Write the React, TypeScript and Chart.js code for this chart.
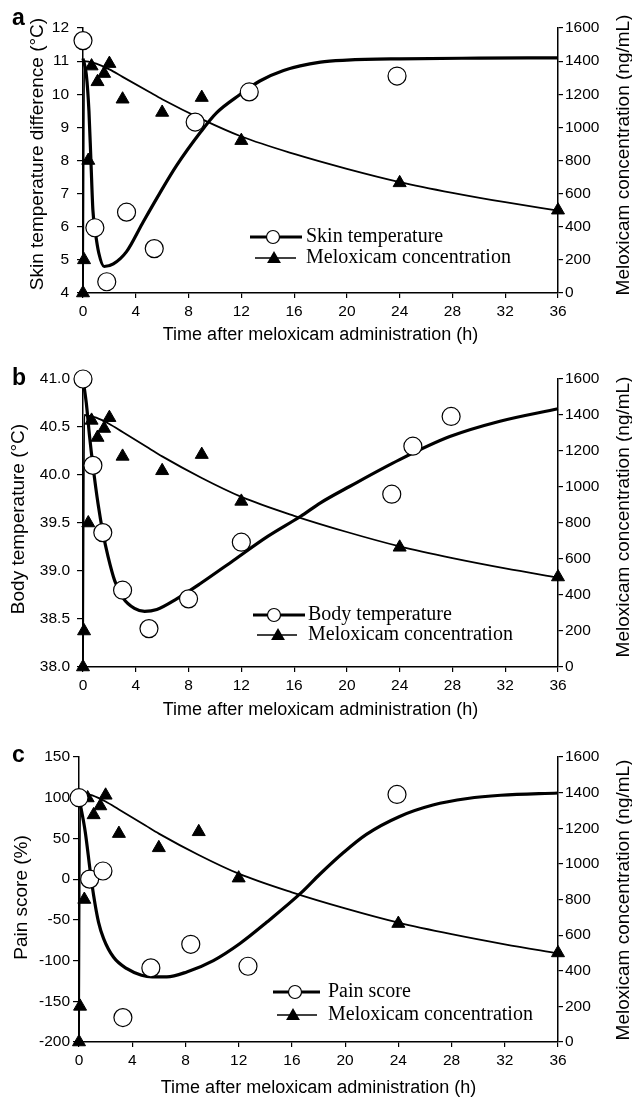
import React, { useEffect, useRef } from "react";
import { Chart, registerables } from "chart.js";

Chart.register(...registerables);

// ---------- Shared axis / tick data ----------
const timeMin = 0;
const timeMax = 36;
const timeStep = 4;
const concMin = 0;
const concMax = 1600;
const concStep = 200;

// ---------- Meloxicam concentration (same in all panels) ----------
const meloxTimes = [0, 0.08, 0.4, 0.65, 1.1, 1.6, 2, 3, 6, 9, 12, 24, 36];
const meloxConc = [0, 200, 800, 1370, 1275, 1325, 1385, 1170, 1090, 1180, 920, 665, 500];
const meloxFitTimes = [0, 0.1, 0.5, 1, 2, 3, 5, 6, 9, 12, 16, 20, 24, 28, 32, 36];
const meloxFitConc = [0, 1400, 1395, 1385, 1350, 1305, 1215, 1170, 1050, 945, 840, 750, 670, 605, 548, 497];

// ---------- Panel a: skin temperature difference ----------
const skinTimes = [0, 0.9, 1.8, 3.3, 5.4, 8.5, 12.6, 23.8];
const skinDiff = [11.62, 5.97, 4.34, 6.44, 5.34, 9.16, 10.07, 10.55];
const skinFitTimes = [0, 0.25, 0.45, 0.6, 0.75, 0.95, 1.2, 1.6, 2.3, 3.3, 4.5, 5.8, 7.1, 8.9, 10.1, 11.9, 13.4, 15.2, 18, 20, 24, 30, 36];
const skinFitDiff = [11.08, 10.6, 9.5, 8.0, 6.5, 5.8, 5.2, 4.8, 4.88, 5.25, 6.1, 7.0, 7.85, 8.85, 9.43, 9.99, 10.4, 10.72, 10.97, 11.03, 11.07, 11.09, 11.1];

// ---------- Panel b: body temperature ----------
const bodyTimes = [0, 0.75, 1.5, 3, 5, 8, 12, 23.4, 25, 27.9];
const bodyTemp = [41.0, 40.1, 39.4, 38.8, 38.4, 38.71, 39.3, 39.8, 40.3, 40.61];
const bodyFitTimes = [0, 0.25, 0.5, 0.76, 1.14, 1.52, 1.9, 2.4, 3.03, 3.9, 4.67, 5.6, 7.1, 8.9, 11.4, 14, 16.5, 18, 20.2, 24, 27.8, 31.6, 36];
const bodyFitTemp = [41.0, 40.75, 40.4, 40.09, 39.7, 39.39, 39.15, 38.9, 38.72, 38.61, 38.58, 38.6, 38.71, 38.87, 39.11, 39.36, 39.57, 39.71, 39.88, 40.16, 40.4, 40.56, 40.69];

// ---------- Panel c: pain score ----------
const painTimes = [0, 0.8, 1.8, 3.3, 5.4, 8.4, 12.7, 23.9];
const painScore = [100, 0, 10, -170, -109, -80, -107, 104];
const painFitTimes = [0, 0.47, 0.85, 1.1, 1.47, 1.85, 2.6, 3.6, 4.7, 5.5, 6.6, 8.1, 10.1, 12.1, 14.1, 16.75, 18.1, 19.9, 21.6, 24.1, 26.6, 29.2, 31.7, 36];
const painFit = [100, 58, 9, -20, -53, -73, -96, -110, -118, -120, -120, -114, -100, -79, -53, -16, 6, 33, 55, 77, 91, 99, 103, 105.8];

// ---------- Texts ----------
const xTitle = "Time after meloxicam administration (h)";
const rightTitle = "Meloxicam concentration (ng/mL)";
const meloxLabel = "Meloxicam concentration";

const SANS = '"Liberation Sans", Arial, Helvetica, sans-serif';
const SERIF = '"Liberation Serif", "Times New Roman", Times, serif';

type PanelDef = {
  letter: string;
  top: number;
  height: number;
  padTop: number;
  padBottom: number;
  leftW: number;
  leftPad: number;
  yMin: number;
  yMax: number;
  yStep: number;
  yFmt: (v: number) => string;
  obsX: number[];
  obsY: number[];
  fitX: number[];
  fitY: number[];
  obsLabel: string;
  leftTitle: string;
  letterY: number;
  leftTitleX: number;
  leftTitleY: number;
  rightTitleY: number;
  xTitleY: number;
  legend: {
    row1Y: number;
    row2Y: number;
    l1: [number, number];
    l2: [number, number];
    sym1X: number;
    sym2X: number;
    textX: number;
  };
};

const panels: PanelDef[] = [
  {
    letter: "a",
    top: 0,
    height: 345,
    padTop: 28,
    padBottom: 22,
    leftW: 83,
    leftPad: 8,
    yMin: 4,
    yMax: 12,
    yStep: 1,
    yFmt: (v) => String(v),
    obsX: skinTimes,
    obsY: skinDiff,
    fitX: skinFitTimes,
    fitY: skinFitDiff,
    obsLabel: "Skin temperature",
    leftTitle: "Skin temperature difference (°C)",
    letterY: 25,
    leftTitleX: 37.5,
    leftTitleY: 154,
    rightTitleY: 155,
    xTitleY: 335,
    legend: { row1Y: 237, row2Y: 258, l1: [250, 302], l2: [255, 296], sym1X: 273, sym2X: 274, textX: 306 },
  },
  {
    letter: "b",
    top: 345,
    height: 375,
    padTop: 34,
    padBottom: 23,
    leftW: 83,
    leftPad: 7,
    yMin: 38,
    yMax: 41,
    yStep: 0.5,
    yFmt: (v) => v.toFixed(1),
    obsX: bodyTimes,
    obsY: bodyTemp,
    fitX: bodyFitTimes,
    fitY: bodyFitTemp,
    obsLabel: "Body temperature",
    leftTitle: "Body temperature (°C)",
    letterY: 40,
    leftTitleX: 19,
    leftTitleY: 174,
    rightTitleY: 172,
    xTitleY: 365,
    legend: { row1Y: 270, row2Y: 290, l1: [253, 305], l2: [257, 297], sym1X: 274, sym2X: 278, textX: 308 },
  },
  {
    letter: "c",
    top: 720,
    height: 380,
    padTop: 37,
    padBottom: 28,
    leftW: 79,
    leftPad: 3,
    yMin: -200,
    yMax: 150,
    yStep: 50,
    yFmt: (v) => String(v),
    obsX: painTimes,
    obsY: painScore,
    fitX: painFitTimes,
    fitY: painFit,
    obsLabel: "Pain score",
    leftTitle: "Pain score (%)",
    letterY: 42,
    leftTitleX: 21.7,
    leftTitleY: 177.5,
    rightTitleY: 180,
    xTitleY: 368,
    legend: { row1Y: 272, row2Y: 295, l1: [273, 320], l2: [277, 317], sym1X: 295, sym2X: 293, textX: 328 },
  },
];

function pts(xs: number[], ys: number[]) {
  return xs.map((x, i) => ({ x, y: ys[i] }));
}

function drawTriangle(ctx: CanvasRenderingContext2D, x: number, y: number, r: number) {
  ctx.beginPath();
  ctx.moveTo(x, y - r);
  ctx.lineTo(x + r * 0.866, y + r * 0.5);
  ctx.lineTo(x - r * 0.866, y + r * 0.5);
  ctx.closePath();
  ctx.fillStyle = "#000";
  ctx.fill();
}

function makeDecor(def: PanelDef) {
  return {
    id: "decor",
    afterDraw(chart: any) {
      const ctx: CanvasRenderingContext2D = chart.ctx;
      const ca = chart.chartArea;
      ctx.save();
      ctx.fillStyle = "#000";
      // panel letter
      ctx.font = `bold 23px ${SANS}`;
      ctx.textAlign = "left";
      ctx.textBaseline = "alphabetic";
      ctx.fillText(def.letter, 12, def.letterY);
      // left axis title
      ctx.font = `19px ${SANS}`;
      ctx.textAlign = "center";
      ctx.textBaseline = "middle";
      ctx.save();
      ctx.translate(def.leftTitleX, def.leftTitleY);
      ctx.rotate(-Math.PI / 2);
      ctx.fillText(def.leftTitle, 0, 0);
      ctx.restore();
      // right axis title
      ctx.save();
      ctx.translate(624, def.rightTitleY);
      ctx.rotate(-Math.PI / 2);
      ctx.fillText(rightTitle, 0, 0);
      ctx.restore();
      // x title
      ctx.font = `18px ${SANS}`;
      ctx.fillText(xTitle, (ca.left + ca.right) / 2, def.xTitleY);
      // legend
      const lg = def.legend;
      ctx.strokeStyle = "#000";
      ctx.lineWidth = 3;
      ctx.beginPath();
      ctx.moveTo(lg.l1[0], lg.row1Y);
      ctx.lineTo(lg.l1[1], lg.row1Y);
      ctx.stroke();
      ctx.beginPath();
      ctx.arc(lg.sym1X, lg.row1Y, 6.5, 0, Math.PI * 2);
      ctx.fillStyle = "#fff";
      ctx.fill();
      ctx.lineWidth = 1.2;
      ctx.stroke();
      ctx.lineWidth = 1.5;
      ctx.beginPath();
      ctx.moveTo(lg.l2[0], lg.row2Y);
      ctx.lineTo(lg.l2[1], lg.row2Y);
      ctx.stroke();
      drawTriangle(ctx, lg.sym2X, lg.row2Y + 1, 8);
      ctx.fillStyle = "#000";
      ctx.font = `20px ${SERIF}`;
      ctx.textAlign = "left";
      ctx.textBaseline = "middle";
      ctx.fillText(def.obsLabel, lg.textX, lg.row1Y);
      ctx.fillText(meloxLabel, lg.textX, lg.row2Y);
      ctx.restore();
    },
  };
}

function Panel({ def }: { def: PanelDef }) {
  const ref = useRef<HTMLCanvasElement>(null);
  useEffect(() => {
    const tickFont = { family: SANS, size: 15.5 };
    const gridBase = { drawOnChartArea: false, drawTicks: true, color: "#000", lineWidth: 1.2 };
    const border = { display: true, color: "#000", width: 1.5 };
    const chart = new Chart(ref.current as HTMLCanvasElement, {
      type: "scatter",
      data: {
        datasets: [
          {
            label: def.obsLabel,
            data: pts(def.obsX, def.obsY),
            yAxisID: "y",
            showLine: false,
            pointStyle: "circle",
            pointRadius: 9,
            pointBackgroundColor: "#fff",
            pointBorderColor: "#000",
            pointBorderWidth: 1.2,
            clip: false,
            order: 0,
          },
          {
            label: meloxLabel,
            data: pts(meloxTimes, meloxConc),
            yAxisID: "y2",
            showLine: false,
            pointStyle: "triangle",
            pointRadius: 7.5,
            pointBackgroundColor: "#000",
            pointBorderColor: "#000",
            pointBorderWidth: 1,
            clip: false,
            order: 0,
          },
          {
            label: def.obsLabel + " fit",
            data: pts(def.fitX, def.fitY),
            yAxisID: "y",
            showLine: true,
            pointRadius: 0,
            borderColor: "#000",
            borderWidth: 3.2,
            cubicInterpolationMode: "monotone",
            fill: false,
            clip: false,
            order: 1,
          },
          {
            label: meloxLabel + " fit",
            data: pts(meloxFitTimes, meloxFitConc),
            yAxisID: "y2",
            showLine: true,
            pointRadius: 0,
            borderColor: "#000",
            borderWidth: 1.8,
            cubicInterpolationMode: "monotone",
            fill: false,
            clip: false,
            order: 1,
          },
        ],
      } as any,
      options: {
        responsive: false,
        animation: false,
        devicePixelRatio: 1,
        layout: { padding: { top: def.padTop, bottom: def.padBottom, left: 0, right: 0 } },
        plugins: { legend: { display: false }, tooltip: { enabled: false } },
        scales: {
          x: {
            type: "linear",
            position: "bottom",
            min: timeMin,
            max: timeMax,
            afterFit: (s: any) => {
              s.height = 30;
            },
            ticks: {
              stepSize: timeStep,
              color: "#000",
              font: tickFont,
              padding: 4,
              maxRotation: 0,
              autoSkip: false,
              callback: (v: any) => String(v),
            },
            grid: { ...gridBase, tickLength: 5 },
            border,
          },
          y: {
            type: "linear",
            position: "left",
            min: def.yMin,
            max: def.yMax,
            afterFit: (s: any) => {
              s.width = def.leftW;
            },
            ticks: {
              stepSize: def.yStep,
              color: "#000",
              font: tickFont,
              padding: def.leftPad,
              autoSkip: false,
              callback: (v: any) => def.yFmt(Number(v)),
            },
            grid: { ...gridBase, tickLength: 6 },
            border,
          },
          y2: {
            type: "linear",
            position: "right",
            min: concMin,
            max: concMax,
            afterFit: (s: any) => {
              s.width = 632 - 558;
            },
            ticks: {
              stepSize: concStep,
              color: "#000",
              font: tickFont,
              padding: 2,
              autoSkip: false,
              callback: (v: any) => String(v),
            },
            grid: { ...gridBase, tickLength: 5 },
            border,
          },
        },
      } as any,
      plugins: [makeDecor(def)],
    });
    return () => chart.destroy();
  }, []);
  return (
    <canvas
      ref={ref}
      width={632}
      height={def.height}
      style={{ position: "absolute", left: 0, top: def.top, width: 632, height: def.height, display: "block" }}
    />
  );
}

export default function App() {
  return (
    <div style={{ position: "absolute", left: 0, top: 0, width: 632, height: 1100, background: "#fff", overflow: "hidden" }}>
      {panels.map((p) => (
        <Panel key={p.letter} def={p} />
      ))}
    </div>
  );
}
